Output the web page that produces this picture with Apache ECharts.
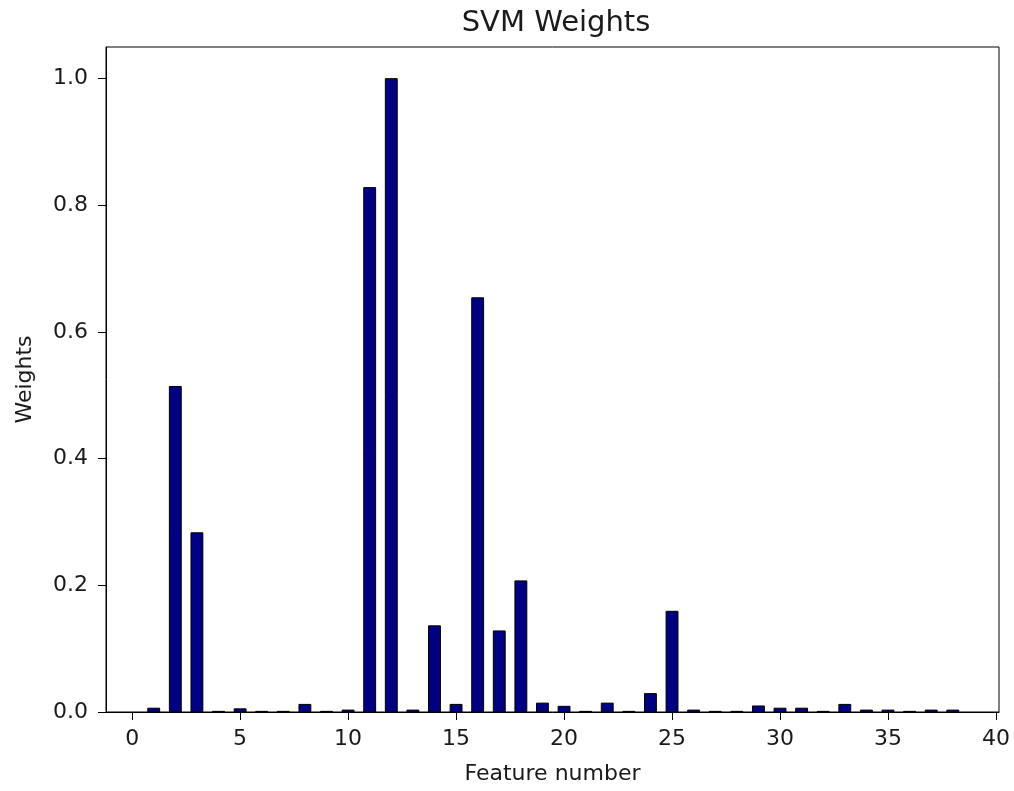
<!DOCTYPE html>
<html>
<head>
<meta charset="utf-8">
<title>SVM Weights</title>
<script src="https://cdn.jsdelivr.net/npm/echarts@6/dist/echarts.min.js"></script>
<style>
  html, body { margin: 0; padding: 0; background: #fff; }
  #chart { width: 1014px; height: 791px; }
</style>
</head>
<body>
<div id="chart"></div>
<script>
// Feature indices and their SVM weights
const features = [1, 2, 3, 4, 5, 6, 7, 8, 9, 10,
                  11, 12, 13, 14, 15, 16, 17, 18, 19, 20,
                  21, 22, 23, 24, 25, 26, 27, 28, 29, 30,
                  31, 32, 33, 34, 35, 36, 37, 38];
const weights = [0.006, 0.514, 0.283, 0.001, 0.005, 0.001, 0.001, 0.012, 0.001, 0.003,
                 0.828, 1.000, 0.003, 0.136, 0.012, 0.654, 0.128, 0.207, 0.014, 0.009,
                 0.001, 0.014, 0.001, 0.029, 0.159, 0.003, 0.001, 0.001, 0.0095, 0.006,
                 0.006, 0.001, 0.012, 0.003, 0.003, 0.001, 0.003, 0.003];

// Tick positions for both axes
const xTicks = [0, 5, 10, 15, 20, 25, 30, 35, 40];
const yTicks = [0, 0.2, 0.4, 0.6, 0.8, 1.0];

const BAR_WIDTH = 0.55; // in feature units
const FONT = 'DejaVu Sans';
const TEXT = '#1a1a1a';

const chart = echarts.init(document.getElementById('chart'), null, { renderer: 'canvas' });

chart.setOption({
  animation: false,
  backgroundColor: '#ffffff',
  title: {
    text: 'SVM Weights',
    left: 551,
    top: 4,
    textAlign: 'center',
    textStyle: { fontFamily: FONT, fontSize: 29, fontWeight: 'normal', color: TEXT }
  },
  grid: {
    left: 106, right: 15, top: 47, bottom: 79,
    show: true, borderColor: '#000', borderWidth: 1, backgroundColor: 'transparent'
  },
  xAxis: {
    type: 'value',
    min: -1.21,
    max: 40.14,
    name: 'Feature number',
    nameLocation: 'middle',
    nameGap: 51,
    nameTextStyle: { fontFamily: FONT, fontSize: 22, color: TEXT },
    axisLine: { show: true, onZero: false, lineStyle: { color: '#000', width: 1 } },
    axisTick: { show: true, length: 8, customValues: xTicks, lineStyle: { color: '#000', width: 1 } },
    axisLabel: {
      customValues: xTicks, margin: 16,
      fontFamily: FONT, fontSize: 22, color: TEXT,
      formatter: v => String(v)
    },
    splitLine: { show: false }
  },
  yAxis: {
    type: 'value',
    min: 0,
    max: 1.05,
    name: 'Weights',
    nameLocation: 'middle',
    nameGap: 70,
    nameRotate: 90,
    nameTextStyle: { fontFamily: FONT, fontSize: 22, color: TEXT },
    axisLine: { show: true, onZero: false, lineStyle: { color: '#000', width: 1 } },
    axisTick: { show: true, length: 8, customValues: yTicks, lineStyle: { color: '#000', width: 1 } },
    axisLabel: {
      customValues: yTicks, margin: 18,
      fontFamily: FONT, fontSize: 22, color: TEXT,
      formatter: v => v.toFixed(1)
    },
    splitLine: { show: false }
  },
  series: [{
    type: 'custom',
    data: features.map((f, i) => [f, weights[i]]),
    encode: { x: 0, y: 1 },
    renderItem: (params, api) => {
      const x = api.value(0);
      const y = api.value(1);
      const p0 = api.coord([x - BAR_WIDTH / 2, 0]);
      const p1 = api.coord([x + BAR_WIDTH / 2, y]);
      return {
        type: 'rect',
        shape: { x: p0[0], y: p1[1], width: p1[0] - p0[0], height: p0[1] - p1[1] },
        style: { fill: '#000080', stroke: '#000000', lineWidth: 1 }
      };
    }
  }]
});
</script>
</body>
</html>
